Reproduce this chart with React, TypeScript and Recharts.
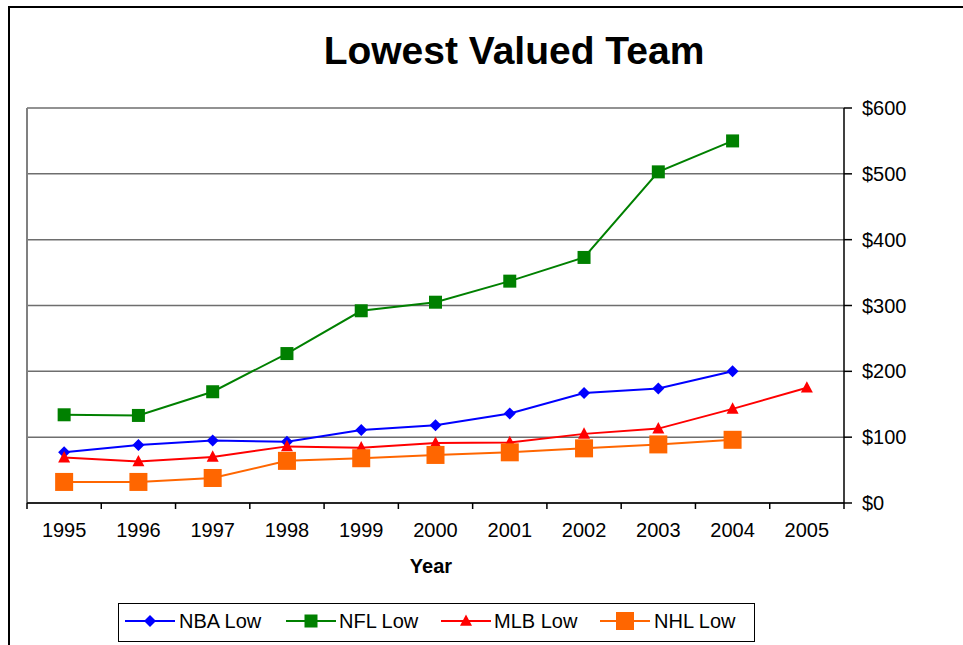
import { CartesianGrid, Line, LineChart, ReferenceLine, XAxis, YAxis } from "recharts";

const YEARS = [1995, 1996, 1997, 1998, 1999, 2000, 2001, 2002, 2003, 2004, 2005];
const NBA_LOW = [77, 88, 95, 93, 111, 118, 136, 167, 174, 200, null];
const NFL_LOW = [134, 133, 169, 227, 292, 305, 337, 373, 503, 550, null];
const MLB_LOW = [69, 63, 70, 86, 84, 91, 92, 105, 113, 143, 175];
const NHL_LOW = [32, 32, 38, 64, 68, 73, 77, 83, 89, 96, null];
const Y_TICKS = [0, 100, 200, 300, 400, 500, 600];

const FONT = '"Liberation Sans", Arial, sans-serif';
const W = 963;
const H = 645;
const PLOT_LEFT = 27;
const PLOT_RIGHT = 844;
const PLOT_TOP = 108;
const PLOT_BOTTOM = 503;
const Y_AXIS_W = 80;
const X_AXIS_H = 40;
const HALF_CAT = (PLOT_RIGHT - PLOT_LEFT) / YEARS.length / 2;

type Shape = "diamond" | "square" | "triangle";

const SERIES: { key: string; name: string; color: string; shape: Shape; size: number }[] = [
  { key: "nba", name: "NBA Low", color: "#0000ff", shape: "diamond", size: 12 },
  { key: "nfl", name: "NFL Low", color: "#008000", shape: "square", size: 13 },
  { key: "mlb", name: "MLB Low", color: "#ff0000", shape: "triangle", size: 12 },
  { key: "nhl", name: "NHL Low", color: "#ff6600", shape: "square", size: 18 },
];

const data = YEARS.map((year, i) => ({
  year,
  nba: NBA_LOW[i],
  nfl: NFL_LOW[i],
  mlb: MLB_LOW[i],
  nhl: NHL_LOW[i],
}));

function Marker({ shape, cx, cy, size, color }: { shape: Shape; cx: number; cy: number; size: number; color: string }) {
  const h = size / 2;
  if (shape === "diamond") {
    return <polygon points={`${cx},${cy - h} ${cx + h},${cy} ${cx},${cy + h} ${cx - h},${cy}`} fill={color} />;
  }
  if (shape === "triangle") {
    return (
      <polygon
        points={`${cx},${cy - size * 0.55} ${cx + h},${cy + size * 0.4} ${cx - h},${cy + size * 0.4}`}
        fill={color}
      />
    );
  }
  return <rect x={cx - h} y={cy - h} width={size} height={size} fill={color} />;
}

function XTick(props: any) {
  const { x, y, payload, index } = props;
  const last = index === YEARS.length - 1;
  return (
    <g>
      <line x1={x - HALF_CAT} x2={x - HALF_CAT} y1={y} y2={y + 6} stroke="#000" strokeWidth={1.5} />
      {last && <line x1={x + HALF_CAT} x2={x + HALF_CAT} y1={y} y2={y + 6} stroke="#000" strokeWidth={1.5} />}
      <text x={x} y={y + 34} textAnchor="middle" fontSize={20} fontFamily={FONT} fill="#000">
        {payload.value}
      </text>
    </g>
  );
}

const LEGEND_POS = [
  { lineX: 125, textX: 179 },
  { lineX: 286, textX: 339 },
  { lineX: 441, textX: 494 },
  { lineX: 600, textX: 654 },
];

export default function App() {
  return (
    <div style={{ position: "absolute", left: 0, top: 0, width: W, height: H, overflow: "hidden", background: "#fff" }}>
      <svg width={W} height={H} style={{ position: "absolute", left: 0, top: 0 }}>
        <rect x={9} y={7} width={1000} height={800} fill="none" stroke="#000" strokeWidth={2} />
      </svg>
      <div style={{ position: "absolute", left: 0, top: 0 }}>
        <LineChart
          width={W}
          height={H}
          data={data}
          margin={{
            top: PLOT_TOP,
            left: PLOT_LEFT,
            right: W - PLOT_RIGHT - Y_AXIS_W,
            bottom: H - PLOT_BOTTOM - X_AXIS_H,
          }}
        >
          <CartesianGrid vertical={false} stroke="#6e6e6e" strokeWidth={1.5} />
          <ReferenceLine x={YEARS[0] - 0.5} stroke="#808080" strokeWidth={2} />
          <XAxis
            dataKey="year"
            type="number"
            domain={[YEARS[0] - 0.5, YEARS[YEARS.length - 1] + 0.5]}
            ticks={YEARS}
            allowDataOverflow
            height={X_AXIS_H}
            tickLine={false}
            tickSize={0}
            tickMargin={0}
            axisLine={{ stroke: "#000", strokeWidth: 1.5 }}
            tick={XTick}
            interval={0}
          />
          <YAxis
            orientation="right"
            domain={[0, 600]}
            ticks={Y_TICKS}
            width={Y_AXIS_W}
            tickSize={8}
            tickMargin={10}
            tickFormatter={(v: number) => `$${v}`}
            tick={{ fontSize: 20, fontFamily: FONT, fill: "#000" }}
            tickLine={{ stroke: "#000", strokeWidth: 1.5 }}
            axisLine={{ stroke: "#000", strokeWidth: 1.5 }}
            interval={0}
          />
          {SERIES.map((s) => (
            <Line
              key={s.key}
              dataKey={s.key}
              stroke={s.color}
              strokeWidth={2}
              isAnimationActive={false}
              activeDot={false}
              dot={(p: any) => {
                if (p.cx == null || p.cy == null || p.value == null) return <g key={`${s.key}-${p.index}`} />;
                return (
                  <g key={`${s.key}-${p.index}`}>
                    <Marker shape={s.shape} cx={p.cx} cy={p.cy} size={s.size} color={s.color} />
                  </g>
                );
              }}
            />
          ))}
        </LineChart>
      </div>
      <svg width={W} height={H} style={{ position: "absolute", left: 0, top: 0, pointerEvents: "none" }}>
        <text x={514} y={64} textAnchor="middle" fontSize={39} fontWeight="bold" fontFamily={FONT} fill="#000">
          Lowest Valued Team
        </text>
        <text x={431} y={573} textAnchor="middle" fontSize={20} fontWeight="bold" fontFamily={FONT} fill="#000">
          Year
        </text>
        <rect x={118.5} y={603.5} width={636} height={38} fill="#fff" stroke="#000" strokeWidth={1} />
        {SERIES.map((s, i) => {
          const pos = LEGEND_POS[i];
          const cy = 621;
          return (
            <g key={s.key}>
              <line x1={pos.lineX} x2={pos.lineX + 50} y1={cy} y2={cy} stroke={s.color} strokeWidth={2} />
              <Marker shape={s.shape} cx={pos.lineX + 25} cy={cy} size={s.size} color={s.color} />
              <text x={pos.textX} y={628} fontSize={20} fontFamily={FONT} fill="#000">
                {s.name}
              </text>
            </g>
          );
        })}
      </svg>
    </div>
  );
}
